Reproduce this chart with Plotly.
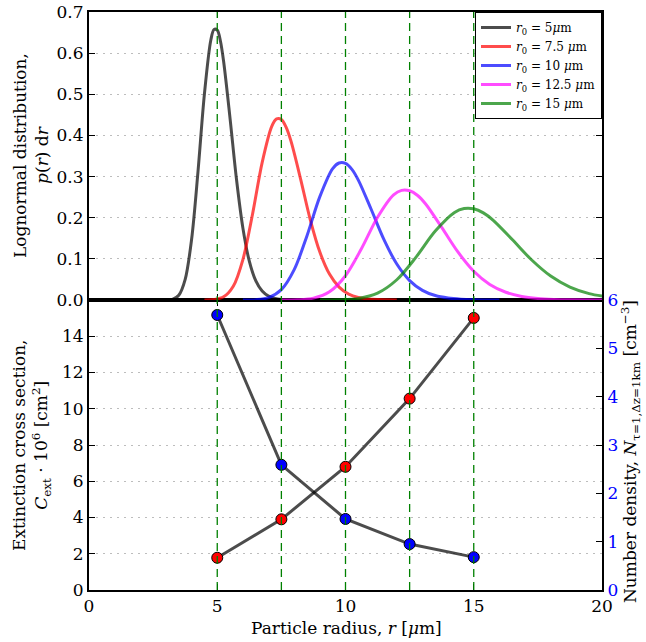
import plotly.graph_objects as go

# ---------------- data ----------------
radius_5 = [3.0, 3.25, 3.5, 3.75, 4.0, 4.25, 4.5, 4.75, 4.875, 5.0, 5.125, 5.25, 5.5, 5.75, 6.0, 6.25, 6.5, 6.75, 7.0, 7.25, 7.5, 8.0]
pdf_5 = [0.0001, 0.0016, 0.0115, 0.0501, 0.1475, 0.3127, 0.5010, 0.6320, 0.6575, 0.6560, 0.6290, 0.5790, 0.4410, 0.2934, 0.1747, 0.0944, 0.0469, 0.0216, 0.0093, 0.0038, 0.0015, 0.0002]

radius_7_5 = [4.5, 4.875, 5.25, 5.625, 6.0, 6.375, 6.75, 7.125, 7.3125, 7.5, 7.6875, 7.875, 8.25, 8.625, 9.0, 9.375, 9.75, 10.125, 10.5, 10.875, 11.25, 12.0]
pdf_7_5 = [0.0001, 0.0011, 0.0077, 0.0334, 0.0983, 0.2085, 0.3340, 0.4220, 0.4400, 0.4385, 0.4195, 0.3860, 0.2940, 0.1956, 0.1165, 0.0629, 0.0313, 0.0144, 0.0062, 0.0025, 0.0010, 0.0001]

radius_10 = [6, 6.5, 7, 7.5, 8, 8.5, 9, 9.5, 9.75, 10, 10.25, 10.5, 11, 11.5, 12, 12.5, 13, 13.5, 14, 14.5, 15, 16]
pdf_10 = [0.0001, 0.0008, 0.0058, 0.0251, 0.0738, 0.1564, 0.2513, 0.3194, 0.3330, 0.3320, 0.3176, 0.2915, 0.2205, 0.1467, 0.0874, 0.0472, 0.0235, 0.0108, 0.0047, 0.0019, 0.0008, 0.0001]

radius_12_5 = [7.5, 8.125, 8.75, 9.375, 10, 10.625, 11.25, 11.875, 12.1875, 12.5, 12.8125, 13.125, 13.75, 14.375, 15, 15.625, 16.25, 16.875, 17.5, 18.125, 18.75, 20]
pdf_12_5 = [0.0000, 0.0006, 0.0046, 0.0200, 0.0590, 0.1251, 0.2010, 0.2555, 0.2665, 0.2655, 0.2540, 0.2332, 0.1764, 0.1174, 0.0699, 0.0378, 0.0188, 0.0086, 0.0037, 0.0015, 0.0006, 0.0001]

radius_15 = [9, 9.75, 10.5, 11.25, 12, 12.75, 13.5, 14.25, 14.625, 15, 15.375, 15.75, 16.5, 17.25, 18, 18.75, 19.5, 20.25]
pdf_15 = [0.0000, 0.0005, 0.0038, 0.0167, 0.0492, 0.1042, 0.1675, 0.2129, 0.2223, 0.2216, 0.2117, 0.1943, 0.1470, 0.0978, 0.0582, 0.0315, 0.0156, 0.0072]

legend_labels = [
    "<i>r</i><sub>0</sub> = 5<i>μ</i>m",
    "<i>r</i><sub>0</sub> = 7.5 <i>μ</i>m",
    "<i>r</i><sub>0</sub> = 10 <i>μ</i>m",
    "<i>r</i><sub>0</sub> = 12.5 <i>μ</i>m",
    "<i>r</i><sub>0</sub> = 15 <i>μ</i>m",
]

r0_values = [5, 7.5, 10, 12.5, 15]
c_ext = [1.78, 3.90, 6.80, 10.56, 15.01]
number_density = [5.69, 2.59, 1.47, 0.95, 0.68]

x_ticks = [0, 5, 10, 15, 20]
top_ticks = [0.0, 0.1, 0.2, 0.3, 0.4, 0.5, 0.6, 0.7]
left_ticks = [0, 2, 4, 6, 8, 10, 12, 14]
right_ticks = [0, 1, 2, 3, 4, 5, 6]

# ---------------- styles ----------------
curve_colors = ["rgba(0,0,0,0.7)", "rgba(255,0,0,0.7)", "rgba(0,0,255,0.7)",
                "rgba(255,0,255,0.7)", "rgba(0,128,0,0.7)"]
FONT = "DejaVu Serif"
W, H = 646, 642
ML, MR, MT, MB = 89, 44, 12, 52
split = 290 / 578

fig = go.Figure()

curves = [(radius_5, pdf_5), (radius_7_5, pdf_7_5), (radius_10, pdf_10),
          (radius_12_5, pdf_12_5), (radius_15, pdf_15)]
for (xs, ys), lab, col in zip(curves, legend_labels, curve_colors):
    fig.add_trace(go.Scatter(x=xs, y=ys, mode="lines", name=lab,
                             line=dict(color=col, width=3, shape="spline", smoothing=0.9),
                             xaxis="x2", yaxis="y3", hoverinfo="skip"))

fig.add_trace(go.Scatter(x=r0_values, y=c_ext, mode="lines+markers", showlegend=False,
                         line=dict(color="rgba(0,0,0,0.7)", width=3),
                         marker=dict(color="red", size=11, line=dict(color="black", width=1)),
                         xaxis="x", yaxis="y"))
fig.add_trace(go.Scatter(x=r0_values, y=number_density, mode="lines+markers", showlegend=False,
                         line=dict(color="rgba(0,0,0,0.7)", width=3),
                         marker=dict(color="blue", size=11, line=dict(color="black", width=1)),
                         xaxis="x", yaxis="y2"))

# vertical dashed reference lines
for v in r0_values:
    fig.add_shape(type="line", xref="x", yref="paper", x0=v, x1=v, y0=0, y1=1,
                  line=dict(color="#008000", width=1.3, dash="8px,5px"), layer="above")

axis_common = dict(showline=True, linecolor="black", linewidth=2, ticks="inside",
                   ticklen=6, tickwidth=1, tickcolor="black", zeroline=False,
                   automargin=False,
                   tickfont=dict(family=FONT, size=17, color="black"),
                   gridcolor="#bdbdbd", griddash="2px,5px", gridwidth=1)

fig.update_layout(
    width=W, height=H,
    margin=dict(l=ML, r=MR, t=MT, b=MB, autoexpand=False),
    plot_bgcolor="white", paper_bgcolor="white",
    font=dict(family=FONT, size=17, color="black"),
    xaxis=dict(axis_common, domain=[0, 1], anchor="y", range=[0, 20], tickvals=x_ticks,
               mirror="ticks", showgrid=False),
    yaxis=dict(axis_common, domain=[0, split], anchor="x", range=[0, 16], tickvals=left_ticks,
               mirror=True, showgrid=True),
    yaxis2=dict(axis_common, overlaying="y", side="right", anchor="x", range=[0, 6],
                tickvals=right_ticks, showgrid=False,
                tickfont=dict(family=FONT, size=17, color="blue")),
    xaxis2=dict(axis_common, domain=[0, 1], anchor="y3", matches="x", range=[0, 20],
                tickvals=x_ticks, showticklabels=False, mirror="ticks", showgrid=False),
    yaxis3=dict(axis_common, domain=[split, 1], anchor="x2", range=[0, 0.7], tickvals=top_ticks,
                tickformat=".1f", mirror="ticks", showgrid=True),
    legend=dict(x=1, xanchor="right", y=1, yanchor="top", bgcolor="white",
                bordercolor="black", borderwidth=1, font=dict(family=FONT, size=12),
                itemwidth=30, tracegroupgap=0),
    showlegend=True,
)

pw = W - ML - MR
ph = H - MT - MB
def px_x(p):
    return (p - ML) / pw
def px_y(p):
    return (H - MB - p) / ph

fig.add_annotation(text="Lognormal distribution,<br><i>p</i>(<i>r</i>) d<i>r</i>",
                   xref="paper", yref="paper", x=px_x(31), y=px_y(156), textangle=-90,
                   showarrow=False, xanchor="center", yanchor="middle",
                   font=dict(family=FONT, size=17))
fig.add_annotation(text="Extinction cross section,<br><i>C</i><sub>ext</sub> · 10<sup>6</sup> [cm<sup>2</sup>]",
                   xref="paper", yref="paper", x=px_x(31), y=px_y(445), textangle=-90,
                   showarrow=False, xanchor="center", yanchor="middle",
                   font=dict(family=FONT, size=17))
fig.add_annotation(text="Number density, <i>N</i><sub>τ=1,Δz=1km</sub> [cm<sup>−3</sup>]",
                   xref="paper", yref="paper", x=px_x(630), y=px_y(452), textangle=-90,
                   showarrow=False, xanchor="center", yanchor="middle",
                   font=dict(family=FONT, size=17))
fig.add_annotation(text="Particle radius, <i>r</i> [<i>μ</i>m]",
                   xref="paper", yref="paper", x=px_x(346), y=px_y(628),
                   showarrow=False, xanchor="center", yanchor="middle",
                   font=dict(family=FONT, size=17))

fig.write_html("out.html")
